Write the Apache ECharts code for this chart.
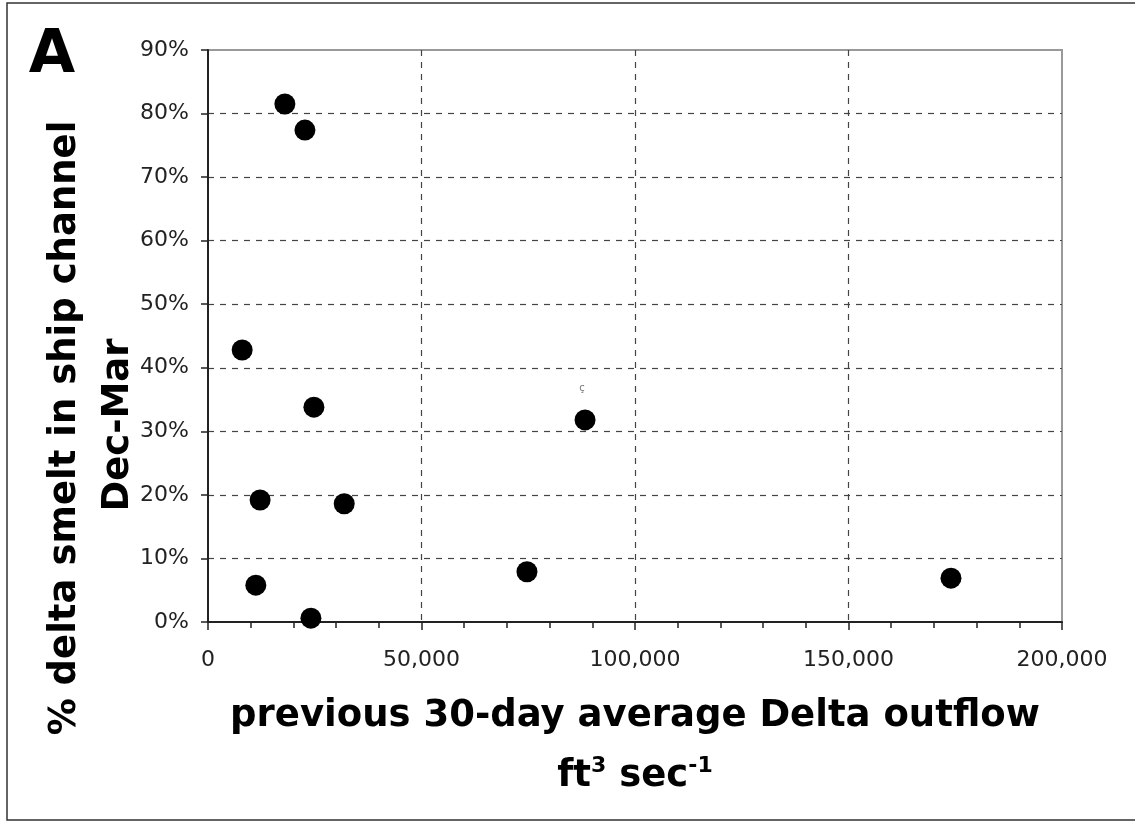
<!DOCTYPE html>
<html>
<head>
<meta charset="utf-8">
<script src="https://cdn.jsdelivr.net/npm/echarts@6/dist/echarts.min.js"></script>
<style>
html,body{margin:0;padding:0;background:#fff;}
#chart{width:1135px;height:821px;}
</style>
</head>
<body>
<div id="chart"></div>
<script>
// previous 30-day average Delta outflow (ft3/s)
const flow = [18000, 22700, 8000, 24800, 88300, 12200, 31900, 11200, 24100, 74700, 174000];
// % delta smelt in ship channel, Dec-Mar
const pct = [81.5, 77.4, 42.8, 33.8, 31.8, 19.2, 18.6, 5.8, 0.6, 7.9, 6.9];

const xTitle = 'previous 30-day average Delta outflow';
const yTitle1 = '% delta smelt in ship channel';
const yTitle2 = 'Dec-Mar';
const panelLabel = 'A';

const points = flow.map((f, i) => [f, pct[i]]);
const FONT = '"DejaVu Sans", Verdana, sans-serif';
const BOLD = '"DejaVu Sans", Verdana, sans-serif';

const chart = echarts.init(document.getElementById('chart'), null, {renderer: 'canvas'});
chart.setOption({
  animation: false,
  backgroundColor: '#fff',
  grid: {left: 208, top: 50, width: 854, height: 572, show: true, borderColor: '#999', borderWidth: 2, backgroundColor: 'transparent'},
  xAxis: {
    type: 'value', min: 0, max: 200000, interval: 50000,
    axisLine: {show: true, lineStyle: {color: '#222', width: 2}},
    axisTick: {show: true, length: 8, lineStyle: {color: '#222', width: 1.5}},
    minorTick: {show: true, splitNumber: 5, length: 6, lineStyle: {color: '#222', width: 1.5}},
    axisLabel: {color: '#222', fontSize: 22, fontFamily: FONT, margin: 27,
      formatter: v => v.toLocaleString('en-US')},
    splitLine: {show: true, showMinLine: false, showMaxLine: false, lineStyle: {color: '#444', type: [6, 6], width: 1.2}}
  },
  yAxis: {
    type: 'value', min: 0, max: 90, interval: 10,
    axisLine: {show: true, lineStyle: {color: '#222', width: 2}},
    axisTick: {show: true, length: 7, lineStyle: {color: '#222', width: 1.5}},
    axisLabel: {color: '#222', fontSize: 22, fontFamily: FONT, margin: 19, formatter: '{value}%'},
    splitLine: {show: true, showMinLine: false, showMaxLine: false, lineStyle: {color: '#444', type: [6, 6], width: 1.2}}
  },
  series: [{
    type: 'scatter',
    data: points,
    symbol: 'circle',
    symbolSize: 21,
    itemStyle: {color: '#000', opacity: 1},
    z: 5
  }],
  graphic: [
    {type: 'rect', shape: {x: 7, y: 3, width: 1140, height: 817}, style: {fill: 'none', stroke: '#333', lineWidth: 1.5}, silent: true},
    {type: 'text', x: 52, y: 56, style: {text: panelLabel, font: 'bold 60px ' + FONT, fill: '#000', textAlign: 'center', textVerticalAlign: 'middle'}},
    {type: 'text', x: 635, y: 716, style: {text: xTitle, font: 'bold 37px ' + BOLD, fill: '#000', textAlign: 'center', textVerticalAlign: 'middle'}},
    {type: 'text', x: 635, y: 775, style: {
      text: '{a|ft}{s|3}{a| sec}{s|-1}', textAlign: 'center', textVerticalAlign: 'middle',
      rich: {
        a: {font: 'bold 37px ' + BOLD, fill: '#000', lineHeight: 40, verticalAlign: 'bottom'},
        s: {font: 'bold 22px ' + BOLD, fill: '#000', lineHeight: 24, verticalAlign: 'top'}
      }}},
    {type: 'text', x: 65, y: 428, rotation: Math.PI / 2, style: {text: yTitle1, font: 'bold 37px ' + BOLD, fill: '#000', textAlign: 'center', textVerticalAlign: 'middle'}},
    {type: 'text', x: 118, y: 425, rotation: Math.PI / 2, style: {text: yTitle2, font: 'bold 37px ' + BOLD, fill: '#000', textAlign: 'center', textVerticalAlign: 'middle'}},
    {type: 'text', x: 582, y: 388, style: {text: 'ç', font: '10px ' + FONT, fill: '#777', textAlign: 'center', textVerticalAlign: 'middle'}}
  ]
});
</script>
</body>
</html>
